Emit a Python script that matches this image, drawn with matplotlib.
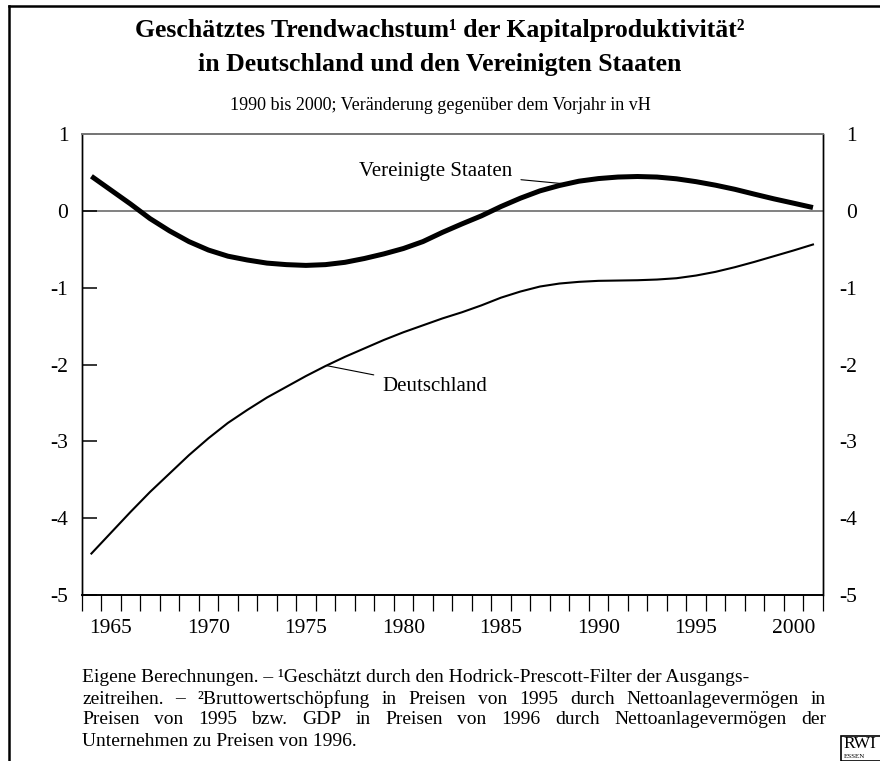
import numpy as np
import matplotlib
matplotlib.use("Agg")
import matplotlib.pyplot as plt
from matplotlib.patches import Rectangle
from matplotlib.lines import Line2D

plt.rcParams.update({
    "font.family": "Liberation Serif",
    "axes.unicode_minus": False,
})

# ================================
# Daten
# ================================
years = np.arange(1964, 2002)

usa = [0.45, 0.27, 0.09, -0.10, -0.26, -0.40, -0.51, -0.59, -0.64, -0.68,
       -0.70, -0.71, -0.70, -0.67, -0.62, -0.56, -0.49, -0.40, -0.28, -0.17,
       -0.065, 0.056, 0.165, 0.26, 0.33, 0.386, 0.42, 0.44, 0.447, 0.44,
       0.417, 0.38, 0.334, 0.28, 0.217, 0.156, 0.10, 0.043]

deutschland = [-4.46, -4.19, -3.92, -3.66, -3.42, -3.18, -2.96, -2.76, -2.59, -2.43,
               -2.29, -2.15, -2.02, -1.90, -1.79, -1.68, -1.58, -1.49, -1.40, -1.32,
               -1.23, -1.13, -1.05, -0.985, -0.946, -0.924, -0.911, -0.907, -0.903, -0.894,
               -0.877, -0.842, -0.794, -0.733, -0.664, -0.59, -0.516, -0.438]

yticks = [1, 0, -1, -2, -3, -4, -5]
ytick_labels = ["1", "0", "-1", "-2", "-3", "-4", "-5"]
xticks_label = [1965, 1970, 1975, 1980, 1985, 1990, 1995, 2000]

title_1 = "Geschätztes Trendwachstum¹ der Kapitalproduktivität²"
title_2 = "in Deutschland und den Vereinigten Staaten"
subtitle = "1990 bis 2000; Veränderung gegenüber dem Vorjahr in vH"

footnote_lines = [
    "Eigene Berechnungen. – ¹Geschätzt durch den Hodrick-Prescott-Filter der Ausgangs-",
    "zeitreihen. – ²Bruttowertschöpfung in Preisen von 1995 durch Nettoanlagevermögen in",
    "Preisen von 1995 bzw. GDP in Preisen von 1996 durch Nettoanlagevermögen der",
    "Unternehmen zu Preisen von 1996.",
]

# ================================
# Figur
# ================================
fig = plt.figure(figsize=(8.8, 7.61), dpi=100)
ax = fig.add_axes([0.0928, 0.2181, 0.8421, 0.6058])

ax.axhline(0, color="#777777", lw=1.3, zorder=1)
ax.plot(years, deutschland, color="black", lw=1.5, zorder=3)
ax.plot(years, usa, color="black", lw=3.6, solid_capstyle="butt", zorder=3)

ax.set_xlim(1963.5, 2001.5)
ax.set_ylim(-5, 1)

# x-Achse: Striche an den Jahresgrenzen, Beschriftung in Jahresmitte
ax.set_xticks(xticks_label)
ax.set_xticklabels([str(y) for y in xticks_label], fontsize=15.5)
ax.set_xticks(np.arange(1963.5, 2002, 1.0), minor=True)
ax.tick_params(axis="x", which="major", length=0, pad=17.5)
ax.tick_params(axis="x", which="minor", direction="out", length=11.5, width=0.9)

# y-Achse links und rechts
ax.set_yticks(yticks)
ax.set_yticklabels(ytick_labels, fontsize=15.5)
ax.tick_params(axis="y", direction="in", length=11, width=1.1, left=True, right=True, pad=9.5)

ax2 = ax.twinx()
ax2.set_ylim(-5, 1)
ax2.set_yticks(yticks)
ax2.set_yticklabels(ytick_labels, fontsize=15.5)
ax2.tick_params(axis="y", direction="in", length=0, pad=24.5)
plt.setp(ax2.get_yticklabels(), ha="right")

for a in (ax, ax2):
    a.spines["top"].set_color("#777777")
    a.spines["top"].set_linewidth(1.3)
    a.spines["left"].set_linewidth(1.0)
    a.spines["right"].set_linewidth(1.0)
    a.spines["bottom"].set_linewidth(1.2)

# Beschriftungen der Kurven
us_label = (1985.6, 0.51)
us_point = 1988.35
de_label = (1978.9, -2.29)
de_point = 1976.05

ax.annotate("Vereinigte Staaten", xy=(us_point, np.interp(us_point, years, usa)),
            xytext=us_label, ha="right", va="center", fontsize=15,
            arrowprops=dict(arrowstyle="-", lw=0.8, color="black", shrinkA=4, shrinkB=0))
ax.annotate("Deutschland", xy=(de_point, np.interp(de_point, years, deutschland)),
            xytext=de_label, ha="left", va="center", fontsize=15,
            arrowprops=dict(arrowstyle="-", lw=0.8, color="black", shrinkA=4, shrinkB=0))

# Titel
fig.text(0.5, 1 - 31 / 761, title_1, ha="center", va="center", fontsize=18.5, fontweight="bold")
fig.text(0.5, 1 - 64 / 761, title_2, ha="center", va="center", fontsize=18.5, fontweight="bold")
fig.text(0.5, 1 - 106 / 761, subtitle, ha="center", va="center", fontsize=13)

# Rahmen
fig.add_artist(Line2D([9 / 880, 9 / 880], [0, 1 - 6 / 761], color="black", lw=1.8))
fig.add_artist(Line2D([9 / 880, 1], [1 - 6 / 761, 1 - 6 / 761], color="black", lw=1.8))

# Fussnote (Zeilen 2 und 3 im Blocksatz)
fig.canvas.draw()
renderer = fig.canvas.get_renderer()
x_left, x_right = 82, 826
line_y = [678, 699, 720, 741]
for i, line in enumerate(footnote_lines):
    yy = 1 - line_y[i] / 761
    if i in (1, 2):
        words = line.split(" ")
        texts = [fig.text(0, yy, w, ha="left", va="center", fontsize=14) for w in words]
        widths = [t.get_window_extent(renderer).width for t in texts]
        gap = (x_right - x_left - sum(widths)) / (len(words) - 1)
        xpos = x_left
        for t, w in zip(texts, widths):
            t.set_x(xpos / 880)
            xpos += w + gap
    else:
        fig.text(x_left / 880, yy, line, ha="left", va="center", fontsize=14)

# RWI-Logo
fig.add_artist(Rectangle((841 / 880, 0), 60 / 880, (761 - 736) / 761,
                         transform=fig.transFigure, fill=False, lw=1.2, color="black"))
fig.text(843 / 880, 1 - 748 / 761, "RWI", ha="left", va="baseline", fontsize=12.5)
fig.text(844 / 880, 1 - 758 / 761, "ESSEN", ha="left", va="baseline", fontsize=5)

fig.savefig("out.png", dpi=100)
